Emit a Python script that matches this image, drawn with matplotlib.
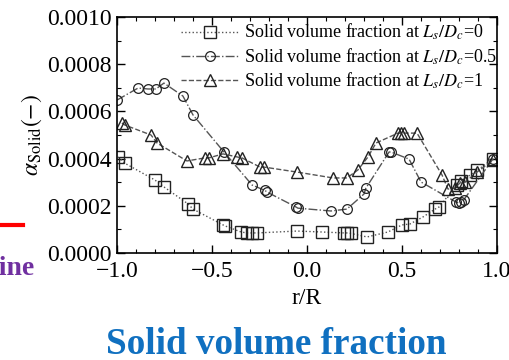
import matplotlib
matplotlib.use("Agg")
import matplotlib.pyplot as plt
from matplotlib.ticker import MultipleLocator

plt.rcParams["font.family"] = ["Liberation Serif", "DejaVu Serif"]
plt.rcParams["mathtext.fontset"] = "stix"

# Radial profiles of solid volume fraction
r_0 = [-0.995, -0.958, -0.800, -0.753, -0.626, -0.600, -0.442, -0.432, -0.347,
       -0.316, -0.290, -0.263, -0.053, 0.079, 0.195, 0.210, 0.230, 0.316,
       0.426, 0.500, 0.542, 0.611, 0.674, 0.695, 0.790, 0.810, 0.858, 0.895, 0.980]
a_0 = [0.000407, 0.000380, 0.000309, 0.000280, 0.000208, 0.000186, 0.000119, 0.000115, 0.000089,
       0.000085, 0.000085, 0.000085, 0.000093, 0.000089, 0.000085, 0.000085, 0.000083, 0.000068,
       0.000089, 0.000119, 0.000123, 0.000153, 0.000186, 0.000195, 0.000290, 0.000305, 0.000330, 0.000350, 0.000400]

r_05 = [-1.000, -0.889, -0.837, -0.795, -0.753, -0.653, -0.600, -0.437, -0.289,
        -0.221, -0.210, -0.058, -0.048, 0.126, 0.210, 0.300, 0.310, 0.432,
        0.442, 0.537, 0.600, 0.784, 0.800, 0.810, 0.825, 0.980]
a_05 = [0.000648, 0.000699, 0.000695, 0.000695, 0.000720, 0.000665, 0.000585, 0.000428, 0.000288,
        0.000265, 0.000258, 0.000195, 0.000190, 0.000178, 0.000186, 0.000250, 0.000275, 0.000428,
        0.000428, 0.000398, 0.000301, 0.000216, 0.000212, 0.000214, 0.000225, 0.000400]

r_1 = [-0.974, -0.958, -0.821, -0.789, -0.632, -0.537, -0.516, -0.442, -0.368,
       -0.342, -0.247, -0.226, -0.053, 0.137, 0.210, 0.268, 0.321, 0.363,
       0.479, 0.495, 0.511, 0.579, 0.711, 0.742, 0.779, 0.805, 0.832, 0.895, 0.980]
a_1 = [0.000551, 0.000542, 0.000500, 0.000466, 0.000390, 0.000403, 0.000403, 0.000420, 0.000407,
       0.000403, 0.000364, 0.000364, 0.000343, 0.000318, 0.000318, 0.000352, 0.000407, 0.000466,
       0.000508, 0.000508, 0.000508, 0.000508, 0.000330, 0.000271, 0.000275, 0.000297, 0.000300, 0.000343, 0.000394]

labels = [r"Solid volume fraction at $L_s/D_c$=0",
          r"Solid volume fraction at $L_s/D_c$=0.5",
          r"Solid volume fraction at $L_s/D_c$=1"]

fig = plt.figure(figsize=(5.1, 3.6), dpi=100)
ax = fig.add_axes([117 / 510, 1 - 253 / 360, 380 / 510, 236 / 360])

line_c = "#555555"
ax.plot(r_0, a_0, linestyle=":", color=line_c, lw=1.0, marker="s", ms=8,
        mfc="none", mec="#222222", mew=1.0, label=labels[0])
ax.plot(r_05, a_05, linestyle="-.", color=line_c, lw=1.0, marker="o", ms=7,
        mfc="none", mec="#222222", mew=0.9, label=labels[1])
ax.plot(r_1, a_1, linestyle="--", color=line_c, lw=1.0, marker="^", ms=9,
        mfc="none", mec="#222222", mew=1.0, label=labels[2])

ax.set_xlim(-1.0, 1.0)
ax.set_ylim(0.0, 0.001)
ax.xaxis.set_major_locator(MultipleLocator(0.5))
ax.xaxis.set_minor_locator(MultipleLocator(0.1))
ax.yaxis.set_major_locator(MultipleLocator(0.0002))
ax.yaxis.set_minor_locator(MultipleLocator(0.0001))
ax.xaxis.set_major_formatter(plt.FuncFormatter(lambda v, p: f"{v:.1f}".replace("-", "\u2212")))
ax.yaxis.set_major_formatter(plt.FuncFormatter(lambda v, p: f"{v:.4f}"))
ax.tick_params(which="both", direction="in", top=True, right=True, labelsize=17)
ax.tick_params(which="major", length=6, width=1.0)
ax.tick_params(which="minor", length=3, width=0.8)
ax.tick_params(axis="y", pad=4)
ax.tick_params(axis="x", pad=6)
for s in ax.spines.values():
    s.set_linewidth(1.2)

ax.set_xlabel("r/R", fontsize=17, labelpad=4)
ax.set_ylabel(r"$\alpha_{\mathrm{Solid}}(-)$", fontsize=17, labelpad=2)

leg = fig.legend(loc="upper left", bbox_to_anchor=(181 / 510, 1 - 22 / 360),
                 frameon=False, fontsize=13, handlelength=3.2, handletextpad=0.3,
                 labelspacing=0.22, borderpad=0, borderaxespad=0)

# Neighbouring slide content
fig.add_artist(plt.Line2D([0, 23 / 510], [1 - 225 / 360] * 2, color="#ff0000", lw=3))
fig.text(35 / 510, 1 - 275 / 360, "line", ha="right", va="baseline",
         fontsize=20, fontweight="bold", color="#7030a0")
fig.text(276 / 510, 1 - 354 / 360, "Solid volume fraction", ha="center", va="baseline",
         fontsize=26.7, fontweight="bold", color="#1070c0")

fig.savefig("out.png", dpi=100)
